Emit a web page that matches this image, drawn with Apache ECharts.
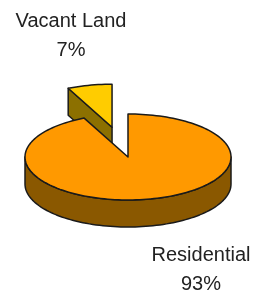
<!DOCTYPE html>
<html>
<head>
<meta charset="utf-8">
<script src="https://cdn.jsdelivr.net/npm/echarts@6/dist/echarts.min.js"></script>
<style>
  html, body { margin: 0; padding: 0; background: #fff; }
  #chart { width: 254px; height: 295px; }
</style>
</head>
<body>
<div id="chart"></div>
<script>
// data
var categories = ['Residential', 'Vacant Land'];
var values = [93, 7];

// look of each slice
var topColors = ['#FF9900', '#FFCC00'];
var sideColors = ['#8A5800', '#8C7000'];
var explode = [0, 0.71];            // fraction of the radius
var labelPos = [[201, 270], [71, 36]];

// pie geometry (tilted ellipse)
var cx = 128, cy = 157, rx = 103, ry = 43, depth = 27;
var deg = Math.PI / 180;
var total = values.reduce(function (a, b) { return a + b; }, 0);

function pt(ox, oy, a, dz) {
  // a = degrees clockwise from 12 o'clock
  return [ox + rx * Math.sin(a * deg), oy - ry * Math.cos(a * deg) + (dz || 0)];
}

function arc(ox, oy, a0, a1, dz) {
  var pts = [];
  var n = Math.max(2, Math.ceil(Math.abs(a1 - a0) / 2));
  for (var k = 0; k <= n; k++) {
    pts.push(pt(ox, oy, a0 + (a1 - a0) * k / n, dz));
  }
  return pts;
}

var lineStyle = { stroke: '#1a1a1a', lineWidth: 1.5, lineJoin: 'round' };

function renderItem(params, api) {
  var i = params.dataIndex;
  var start = 0;
  for (var j = 0; j < i; j++) start += values[j] / total * 360;
  var end = start + api.value(0) / total * 360;
  var mid = (start + end) / 2;

  var ox = cx + explode[i] * rx * Math.sin(mid * deg);
  var oy = cy - explode[i] * ry * Math.cos(mid * deg);
  var base = (1 - Math.cos(mid * deg)) * 10;
  var children = [];

  // outer wall, front half only
  var a = Math.max(start, 90), b = Math.min(end, 270);
  if (a < b) {
    var wall = arc(ox, oy, a, b, 0).concat(arc(ox, oy, b, a, depth));
    children.push({
      type: 'polygon', z2: base,
      shape: { points: wall },
      style: Object.assign({ fill: sideColors[i] }, lineStyle)
    });
  }

  // cut faces that look toward the viewer
  var edges = [];
  if (Math.sin(start * deg) < -1e-6) edges.push(start);
  if (Math.sin(end * deg) > 1e-6) edges.push(end);
  edges.forEach(function (e) {
    var p = pt(ox, oy, e, 0);
    children.push({
      type: 'polygon', z2: base + 0.5,
      shape: { points: [[ox, oy], p, [p[0], p[1] + depth], [ox, oy + depth]] },
      style: Object.assign({ fill: sideColors[i] }, lineStyle)
    });
  });

  // top face
  children.push({
    type: 'polygon', z2: base + 1,
    shape: { points: [[ox, oy]].concat(arc(ox, oy, start, end, 0)) },
    style: Object.assign({ fill: topColors[i] }, lineStyle)
  });

  // label
  children.push({
    type: 'text', z2: 100,
    x: labelPos[i][0], y: labelPos[i][1],
    style: {
      text: categories[i] + '\n' + api.value(0) + '%',
      align: 'center', verticalAlign: 'middle',
      fontFamily: 'Liberation Sans, Arial, sans-serif',
      fontSize: 20, lineHeight: 29, fill: '#222'
    }
  });

  return { type: 'group', children: children };
}

var chart = echarts.init(document.getElementById('chart'));
chart.setOption({
  animation: false,
  series: [{
    type: 'custom',
    coordinateSystem: 'none',
    renderItem: renderItem,
    data: values
  }]
});
</script>
</body>
</html>
